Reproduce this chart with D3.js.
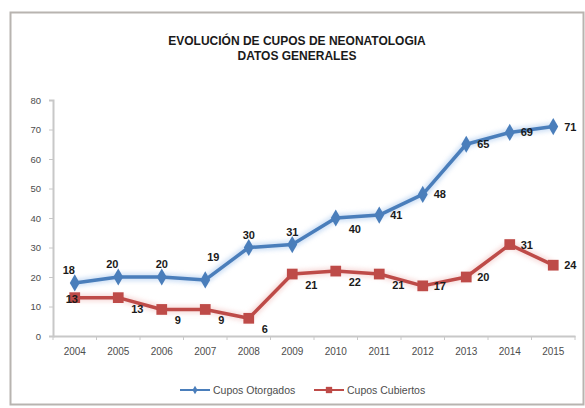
<!DOCTYPE html>
<html>
<head>
<meta charset="utf-8">
<script src="https://cdn.jsdelivr.net/npm/d3@7"></script>
<style>
  html, body { margin: 0; padding: 0; background: #fff; }
  svg { display: block; }
</style>
</head>
<body>
<svg id="chart" width="585" height="408"></svg>
<script>
// Years on the category axis
const years = ["2004","2005","2006","2007","2008","2009","2010","2011","2012","2013","2014","2015"];
// Neonatology slots granted per year
const otorgados = [18, 20, 20, 19, 30, 31, 40, 41, 48, 65, 69, 71];
// Neonatology slots covered per year
const cubiertos = [13, 13, 9, 9, 6, 21, 22, 21, 17, 20, 31, 24];
// Value axis ticks
const yTicks = [0, 10, 20, 30, 40, 50, 60, 70, 80];
// Where each data label sits relative to its point
const placeOtorgados = ["tl","tl","t","tr","t","t","br","r","r","r","r","r"];
const placeCubiertos = ["l","br","br","br","br","br","br","br","r","r","r","r"];

const titleLines = ["EVOLUCIÓN DE CUPOS DE NEONATOLOGIA", "DATOS GENERALES"];
const seriesNames = ["Cupos Otorgados", "Cupos Cubiertos"];

const blue = "#4A7EBB", red = "#BE4B48";
const svg = d3.select("#chart");

// Chart frame
svg.append("rect").attr("x", 10.5).attr("y", 12.5).attr("width", 573).attr("height", 392)
  .attr("fill", "#fff").attr("stroke", "#b8b4b0").attr("stroke-width", 2);

// Soft glow around the series lines
const defs = svg.append("defs");
const glow = defs.append("filter").attr("id", "glow")
  .attr("x", "-10%").attr("y", "-10%").attr("width", "120%").attr("height", "120%");
glow.append("feGaussianBlur").attr("stdDeviation", 2.2);

// Title
svg.append("g").selectAll("text").data(titleLines).join("text")
  .attr("x", 297).attr("y", (d, i) => 45 + i * 15)
  .attr("text-anchor", "middle")
  .attr("font-family", "Liberation Sans, Arial, sans-serif")
  .attr("font-weight", "bold").attr("font-size", 12)
  .attr("fill", "#1a1a1a")
  .text(d => d);

// Scales
const x = d3.scaleBand().domain(years).range([53, 575]);
const cx = d => x(d) + x.bandwidth() / 2;
const y = d3.scaleLinear().domain([0, 80]).range([336, 100]);

// Value axis
const yAxis = svg.append("g").attr("transform", "translate(53,0)")
  .call(d3.axisLeft(y).tickValues(yTicks).tickSize(4).tickPadding(8));
yAxis.select(".domain").attr("stroke", "#c8c8c8").attr("stroke-width", 2);
yAxis.selectAll(".tick line").attr("stroke", "#c8c8c8");
yAxis.selectAll("text").attr("font-family", "Liberation Sans, Arial, sans-serif")
  .attr("font-size", 9.5).attr("fill", "#4d4d4d");

// Category axis
const xAxis = svg.append("g").attr("transform", "translate(0,336)")
  .call(d3.axisBottom(x).tickSize(0).tickPadding(12));
xAxis.select(".domain").attr("stroke", "#c8c8c8").attr("stroke-width", 2);
xAxis.selectAll("text").attr("font-family", "Liberation Sans, Arial, sans-serif")
  .attr("font-size", 10).attr("fill", "#4d4d4d");
// Tick marks at the category boundaries
svg.append("g").selectAll("line").data(years.concat(["end"])).join("line")
  .attr("x1", (d, i) => 53 + i * x.step()).attr("x2", (d, i) => 53 + i * x.step())
  .attr("y1", 336).attr("y2", 340).attr("stroke", "#c8c8c8");

const line = d3.line().x((d, i) => cx(years[i])).y(d => y(d));

function drawSeries(values, color, glowColor, marker, places) {
  const g = svg.append("g");
  g.append("path").datum(values).attr("d", line)
    .attr("fill", "none").attr("stroke", glowColor).attr("stroke-width", 8)
    .attr("opacity", 0.55).attr("filter", "url(#glow)");
  g.append("path").datum(values).attr("d", line)
    .attr("fill", "none").attr("stroke", color).attr("stroke-width", 3.5)
    .attr("stroke-linejoin", "round");
  g.selectAll(".m").data(values).join("path").attr("class", "m")
    .attr("transform", (d, i) => `translate(${cx(years[i])},${y(d)})`)
    .attr("d", marker).attr("fill", color);
  const off = {
    t: [0, -9, "middle"], tl: [-6, -9, "middle"], tr: [8, -19, "middle"],
    r: [11, 4, "start"], br: [13, 15, "start"], l: [-3, 5, "middle"]
  };
  g.selectAll(".lbl").data(values).join("text").attr("class", "lbl")
    .attr("x", (d, i) => cx(years[i]) + off[places[i]][0])
    .attr("y", (d, i) => y(d) + off[places[i]][1])
    .attr("text-anchor", (d, i) => off[places[i]][2])
    .attr("font-family", "Liberation Sans, Arial, sans-serif")
    .attr("font-weight", "bold").attr("font-size", 11).attr("fill", "#1a1a1a")
    .text(d => d);
}

const diamond = d3.symbol().type(d3.symbolDiamond).size(85)();
const square = d3.symbol().type(d3.symbolSquare).size(115)();

drawSeries(cubiertos, red, "#f2c4c2", square, placeCubiertos);
drawSeries(otorgados, blue, "#a9c8ee", diamond, placeOtorgados);

// Legend
const legend = svg.append("g").attr("transform", "translate(0,390)");
const items = [
  { name: seriesNames[0], color: blue, marker: d3.symbol().type(d3.symbolDiamond).size(22)(), x0: 180 },
  { name: seriesNames[1], color: red, marker: d3.symbol().type(d3.symbolSquare).size(40)(), x0: 314 }
];
items.forEach(it => {
  legend.append("line").attr("x1", it.x0).attr("x2", it.x0 + 30).attr("y1", 0).attr("y2", 0)
    .attr("stroke", it.color).attr("stroke-width", 2);
  legend.append("path").attr("transform", `translate(${it.x0 + 15},0)`).attr("d", it.marker)
    .attr("fill", it.color);
  legend.append("text").attr("x", it.x0 + 33).attr("y", 4)
    .attr("font-family", "Liberation Sans, Arial, sans-serif").attr("font-size", 10.5)
    .attr("fill", "#4d4d4d").text(it.name);
});
</script>
</body>
</html>
